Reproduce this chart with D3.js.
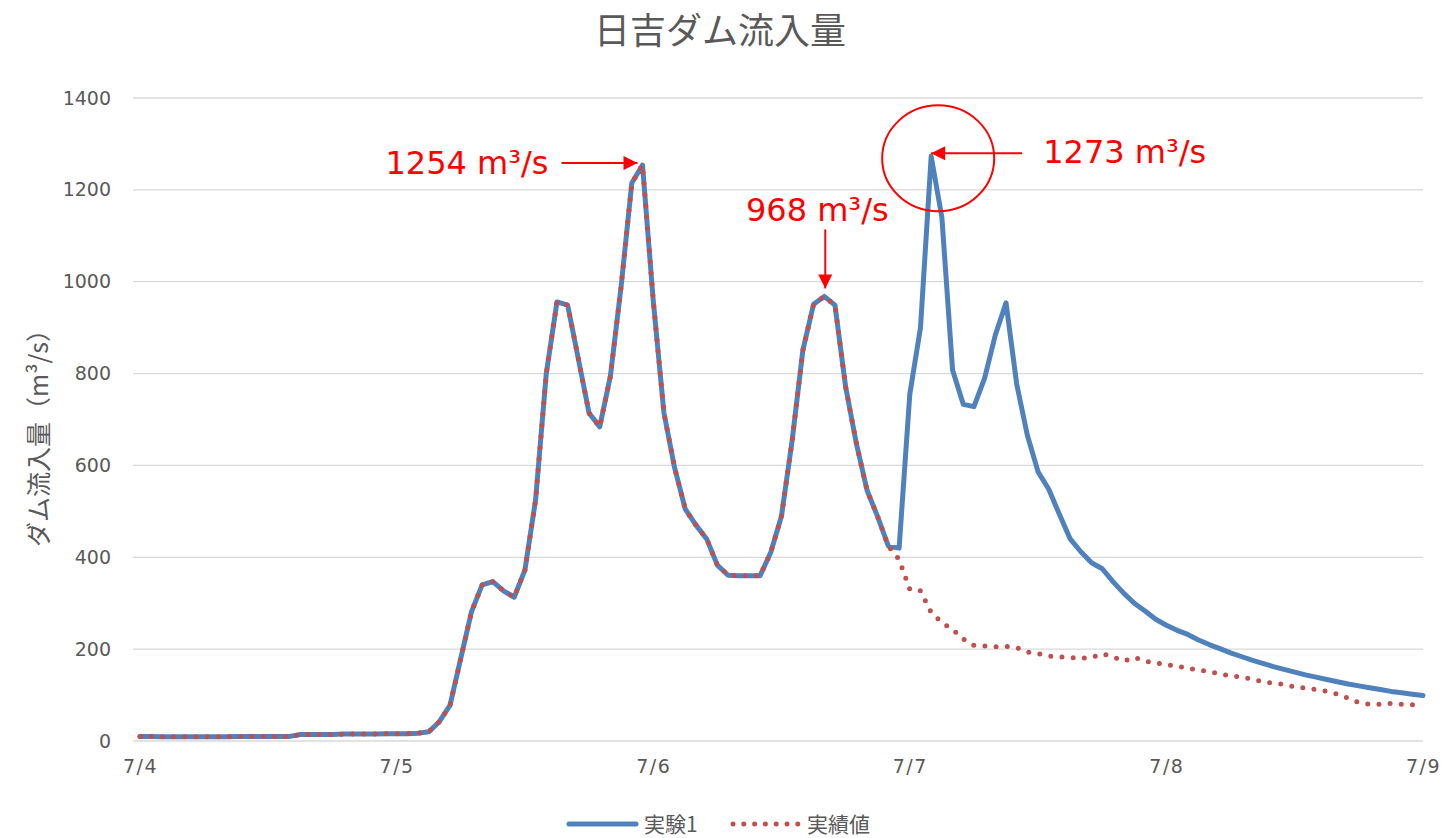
<!DOCTYPE html>
<html lang="ja">
<head>
<meta charset="utf-8">
<title>日吉ダム流入量</title>
<script src="https://cdn.jsdelivr.net/npm/d3@7"></script>
<style>
  html, body { margin: 0; padding: 0; background: #ffffff; }
  svg { display: block; }
</style>
</head>
<body>
<svg id="chart" width="1442" height="838"></svg>
<script>
// Day labels on the time axis (one tick every 24 hourly samples)
const dayLabels = ["7/4", "7/5", "7/6", "7/7", "7/8", "7/9"];
const yTicks = [0, 200, 400, 600, 800, 1000, 1200, 1400];

// Hourly inflow, simulation run (m³/s)
const experiment1 = [
  10, 10, 9, 9, 9, 9, 9, 9, 9, 10, 10, 10, 10, 10, 10, 14, 14, 14, 14, 15, 15, 15, 15, 16,
  16, 16, 17, 20, 42, 78, 180, 281, 340, 347, 327, 313, 372, 525, 800, 956, 949, 832, 714, 684, 795, 990, 1215, 1254,
  960, 715, 595, 505, 470, 440, 383, 361, 360, 360, 360, 411, 490, 655, 851, 951, 968, 949, 771, 648, 546, 488, 424, 420,
  755, 900, 1273, 1140, 808, 733, 728, 790, 884, 954, 777, 665, 586, 548, 493, 440, 412, 388, 375, 347, 322, 300, 283, 265,
  252, 241, 232, 220, 210, 201, 192, 184, 176, 169, 162, 156, 150, 144, 139, 134, 129, 124, 120, 116, 112, 108, 105, 102, 99
];

// Hourly inflow, observed record (m³/s)
const observed = [
  10, 10, 9, 9, 9, 9, 9, 9, 9, 10, 10, 10, 10, 10, 10, 14, 14, 14, 14, 15, 15, 15, 15, 16,
  16, 16, 17, 20, 42, 78, 180, 281, 340, 347, 327, 313, 372, 525, 800, 956, 949, 832, 714, 684, 795, 990, 1215, 1254,
  960, 715, 595, 505, 470, 440, 383, 361, 360, 360, 360, 411, 490, 655, 851, 951, 968, 949, 771, 648, 546, 488, 424, 395,
  330, 327, 280, 258, 243, 222, 208, 207, 205, 206, 203, 194, 190, 185, 183, 182, 180, 182, 190, 183, 174, 182, 174, 170,
  166, 163, 158, 155, 151, 146, 142, 139, 135, 129, 126, 123, 118, 115, 112, 108, 102, 93, 84, 80, 80, 82, 80, 79, 77
];

// Peak call-outs: hour index into experiment1 and the stated value
const peakNotes = [
  { hour: 47, value: 1254, kind: "left" },
  { hour: 64, value: 968, kind: "top" },
  { hour: 74, value: 1273, kind: "right" }
];

const svg = d3.select("#chart");
const grey = "#595959";
const blue = "#4F81BD";
const red = "#C0504D";
const alert = "#FF0000";
const numFont = "'DejaVu Sans', Verdana, sans-serif";
const jpFont = "'Noto Sans CJK JP', 'Noto Sans', sans-serif";

const x = d3.scaleLinear().domain([0, 120]).range([140, 1423]);
const y = d3.scaleLinear().domain([0, 1400]).range([741, 98]);

// arrowhead marker
const defs = svg.append("defs");
defs.append("marker")
  .attr("id", "arrow")
  .attr("viewBox", "0 0 10 10")
  .attr("refX", 10).attr("refY", 5)
  .attr("markerUnits", "userSpaceOnUse")
  .attr("markerWidth", 16).attr("markerHeight", 14)
  .attr("orient", "auto")
  .append("path")
  .attr("d", "M0,0 L10,5 L0,10 Z")
  .attr("fill", alert);

// title
svg.append("text")
  .attr("x", 720).attr("y", 28)
  .attr("text-anchor", "middle")
  .attr("dominant-baseline", "central")
  .attr("font-family", jpFont)
  .attr("font-size", 36)
  .attr("fill", grey)
  .text("日吉ダム流入量");

// horizontal gridlines
svg.append("g")
  .selectAll("line")
  .data(yTicks.filter(d => d > 0))
  .join("line")
  .attr("x1", 133).attr("x2", x(120))
  .attr("y1", d => y(d)).attr("y2", d => y(d))
  .attr("stroke", "#d9d9d9").attr("stroke-width", 1.3);

// y axis (labels only)
const yAxis = svg.append("g")
  .attr("transform", "translate(133,0)")
  .call(d3.axisLeft(y).tickValues(yTicks).tickSize(0).tickPadding(22).tickFormat(d3.format("d")));
yAxis.select(".domain").remove();
yAxis.selectAll("text")
  .attr("font-family", numFont)
  .attr("font-size", 19)
  .attr("fill", grey);

// x axis
const xAxis = svg.append("g")
  .attr("transform", `translate(0,${y(0)})`)
  .call(d3.axisBottom(x).tickValues(d3.range(0, 121, 24)).tickSize(0).tickPadding(19)
    .tickFormat((d, i) => dayLabels[i]));
xAxis.select(".domain")
  .attr("d", `M133,0H${x(120)}`)
  .attr("stroke", "#d9d9d9").attr("stroke-width", 1.6);
xAxis.selectAll("text")
  .attr("font-family", numFont)
  .attr("font-size", 19)
  .attr("letter-spacing", 1.5)
  .attr("fill", grey);

// y axis title
svg.append("text")
  .attr("transform", "translate(37,432) rotate(-90)")
  .attr("text-anchor", "middle")
  .attr("dominant-baseline", "central")
  .attr("font-family", jpFont)
  .attr("font-size", 25)
  .attr("fill", grey)
  .text("ダム流入量（m³/s）");

// series
const line = d3.line().x((d, i) => x(i)).y(d => y(d));

svg.append("path")
  .datum(experiment1)
  .attr("d", line)
  .attr("fill", "none")
  .attr("stroke", blue)
  .attr("stroke-width", 5)
  .attr("stroke-linejoin", "round")
  .attr("stroke-linecap", "round");

svg.append("path")
  .datum(observed)
  .attr("d", line)
  .attr("fill", "none")
  .attr("stroke", red)
  .attr("stroke-width", 5)
  .attr("stroke-dasharray", "0 11.2")
  .attr("stroke-linecap", "round");

// peak annotations
const notes = svg.append("g").attr("font-family", numFont).attr("font-size", 32).attr("fill", alert);

peakNotes.forEach(n => {
  const px = x(n.hour), py = y(experiment1[n.hour]);
  const label = `${n.value} m³/s`;
  if (n.kind === "left") {
    notes.append("line")
      .attr("x1", px - 81).attr("y1", py - 2)
      .attr("x2", px - 5).attr("y2", py - 2)
      .attr("stroke", alert).attr("stroke-width", 2)
      .attr("marker-end", "url(#arrow)");
    notes.append("text")
      .attr("x", px - 94).attr("y", py + 9)
      .attr("text-anchor", "end")
      .text(label);
  } else if (n.kind === "top") {
    notes.append("line")
      .attr("x1", px + 1).attr("y1", py - 67)
      .attr("x2", px + 1).attr("y2", py - 8)
      .attr("stroke", alert).attr("stroke-width", 2)
      .attr("marker-end", "url(#arrow)");
    notes.append("text")
      .attr("x", px - 7).attr("y", py - 75)
      .attr("text-anchor", "middle")
      .text(label);
  } else {
    notes.append("ellipse")
      .attr("cx", px + 7).attr("cy", py + 2)
      .attr("rx", 56).attr("ry", 53)
      .attr("fill", "none")
      .attr("stroke", alert).attr("stroke-width", 2);
    notes.append("line")
      .attr("x1", px + 91).attr("y1", py - 3)
      .attr("x2", px).attr("y2", py - 3)
      .attr("stroke", alert).attr("stroke-width", 2)
      .attr("marker-end", "url(#arrow)");
    notes.append("text")
      .attr("x", px + 112).attr("y", py + 7)
      .attr("text-anchor", "start")
      .text(label);
  }
});

// legend
const legend = svg.append("g");
legend.append("line")
  .attr("x1", 569).attr("x2", 636).attr("y1", 824).attr("y2", 824)
  .attr("stroke", blue).attr("stroke-width", 5).attr("stroke-linecap", "round");
legend.append("text")
  .attr("x", 644).attr("y", 823)
  .attr("dominant-baseline", "central")
  .attr("font-family", jpFont).attr("font-size", 21).attr("fill", grey)
  .text("実験1");
legend.append("line")
  .attr("x1", 733).attr("x2", 798).attr("y1", 824).attr("y2", 824)
  .attr("stroke", red).attr("stroke-width", 5)
  .attr("stroke-dasharray", "0 10.8").attr("stroke-linecap", "round");
legend.append("text")
  .attr("x", 807).attr("y", 823)
  .attr("dominant-baseline", "central")
  .attr("font-family", jpFont).attr("font-size", 21).attr("fill", grey)
  .text("実績値");
</script>
</body>
</html>
